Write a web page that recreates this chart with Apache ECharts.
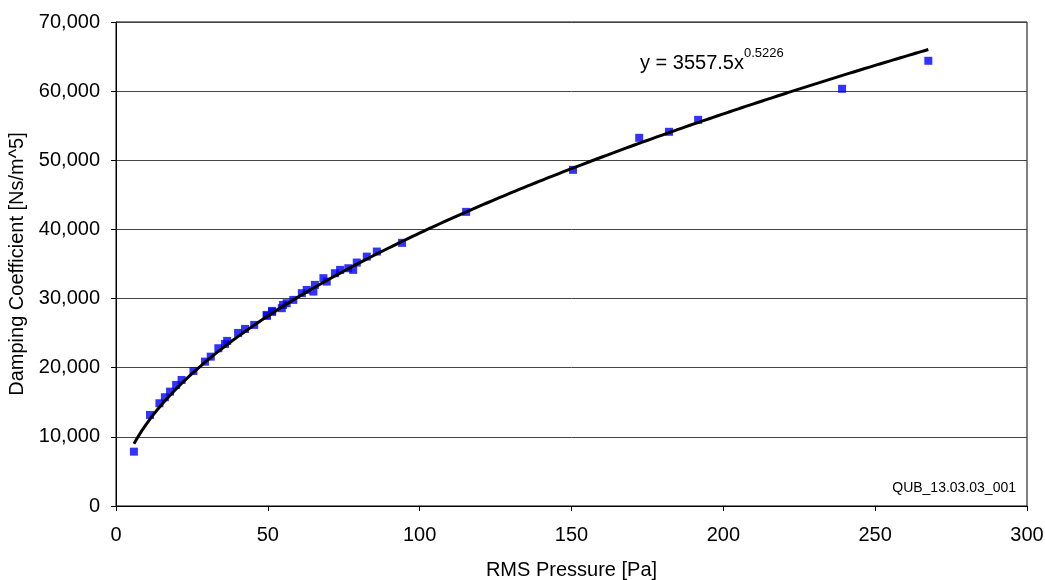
<!DOCTYPE html>
<html>
<head>
<meta charset="utf-8">
<script src="https://cdn.jsdelivr.net/npm/echarts@6/dist/echarts.min.js"></script>
<style>
  html, body { margin: 0; padding: 0; background: #ffffff; }
  #chart { width: 1045px; height: 580px; }
</style>
</head>
<body>
<div id="chart"></div>
<script>
// Measured RMS pressure [Pa] and damping coefficient [Ns/m^5]
const rmsPressure = [
  5.9, 11.2, 14.3, 16.1, 17.8, 19.8, 21.6, 25.5, 29.3, 31.2,
  33.7, 35.9, 36.6, 40.2, 42.5, 45.5, 49.6, 49.7, 51.4, 51.4,
  54.6, 55.0, 56.2, 58.4, 61.2, 62.8, 65.0, 65.5, 68.3, 69.4,
  72.1, 73.8, 76.5, 78.1, 79.3, 82.6, 85.9, 94.2, 115.3, 150.5,
  172.3, 182.1, 191.7, 239.1, 267.5
];
const dampingCoeff = [
  7860, 13170, 14860, 15730, 16540, 17510, 18230, 19530, 20880, 21600,
  22820, 23440, 23880, 25030, 25610, 26190, 27640, 27490, 28070, 28220,
  28610, 29080, 29330, 29810, 30780, 31250, 31010, 31980, 32950, 32460,
  33670, 34150, 34390, 34150, 35210, 36070, 36800, 38060, 42540, 48620,
  53250, 54120, 55850, 60340, 64390
];

// Power-law trendline y = A * x^B
const FIT_A = 3557.5;
const FIT_B = 0.5226;

const xTicks = { min: 0, max: 300, interval: 50 };
const yTicks = { min: 0, max: 70000, interval: 10000 };

const measured = rmsPressure.map((x, i) => [x, dampingCoeff[i]]);

// Trendline sampled over the measured pressure range
const xLo = Math.min(...rmsPressure);
const xHi = Math.max(...rmsPressure);
const trend = [];
const steps = 200;
for (let i = 0; i <= steps; i++) {
  const x = xLo + (xHi - xLo) * i / steps;
  trend.push([x, FIT_A * Math.pow(x, FIT_B)]);
}

const fontFamily = '"Liberation Sans", Arial, sans-serif';

const chart = echarts.init(document.getElementById('chart'), null, { renderer: 'canvas' });
chart.setOption({
  animation: false,
  backgroundColor: '#ffffff',
  textStyle: { fontFamily: fontFamily, color: '#000' },
  grid: {
    left: 116, right: 18, top: 22, bottom: 74,
    containLabel: false,
    outerBoundsMode: 'none',
    show: true, borderColor: '#000', borderWidth: 1, backgroundColor: 'transparent'
  },
  xAxis: {
    type: 'value',
    min: xTicks.min, max: xTicks.max, interval: xTicks.interval,
    name: 'RMS Pressure [Pa]',
    nameLocation: 'middle',
    nameGap: 54,
    nameTextStyle: { fontSize: 20, color: '#000', fontFamily: fontFamily },
    axisLine: { show: true, onZero: false, lineStyle: { color: '#000', width: 1 } },
    axisTick: { show: true, inside: false, length: 5, lineStyle: { color: '#000' } },
    axisLabel: { fontSize: 20, color: '#000', margin: 19, fontFamily: fontFamily },
    splitLine: { show: false }
  },
  yAxis: {
    type: 'value',
    min: yTicks.min, max: yTicks.max, interval: yTicks.interval,
    name: 'Damping Coefficient [Ns/m^5]',
    nameLocation: 'middle',
    nameGap: 86,
    nameTextStyle: { fontSize: 20, color: '#000', fontFamily: fontFamily },
    axisLine: { show: true, onZero: false, lineStyle: { color: '#000', width: 1 } },
    axisTick: { show: true, inside: false, length: 5, lineStyle: { color: '#000' } },
    axisLabel: {
      fontSize: 20, color: '#000', margin: 16, fontFamily: fontFamily,
      formatter: v => v.toLocaleString('en-US')
    },
    splitLine: { show: true, lineStyle: { color: '#444', width: 1 } }
  },
  series: [
    {
      name: 'Measured',
      type: 'scatter',
      data: measured,
      symbol: 'rect',
      symbolSize: 8,
      itemStyle: { color: '#0000ff' },
      z: 2
    },
    {
      name: 'Power fit',
      type: 'line',
      data: trend,
      showSymbol: false,
      smooth: false,
      lineStyle: { color: '#000', width: 3 },
      z: 3
    }
  ],
  graphic: [
    {
      type: 'text',
      left: 640, top: 47,
      style: {
        text: '{base|y = ' + FIT_A + 'x}{sup|' + FIT_B + '}',
        rich: {
          base: { fontSize: 20, fontFamily: fontFamily, fill: '#000', padding: [10, 0, 0, 0] },
          sup: { fontSize: 13, fontFamily: fontFamily, fill: '#000', padding: [0, 0, 10, 0] }
        }
      }
    },
    {
      type: 'text',
      right: 29, top: 481,
      style: {
        text: 'QUB_13.03.03_001',
        fontSize: 14, fontFamily: fontFamily, fill: '#000'
      }
    }
  ]
});
</script>
</body>
</html>
